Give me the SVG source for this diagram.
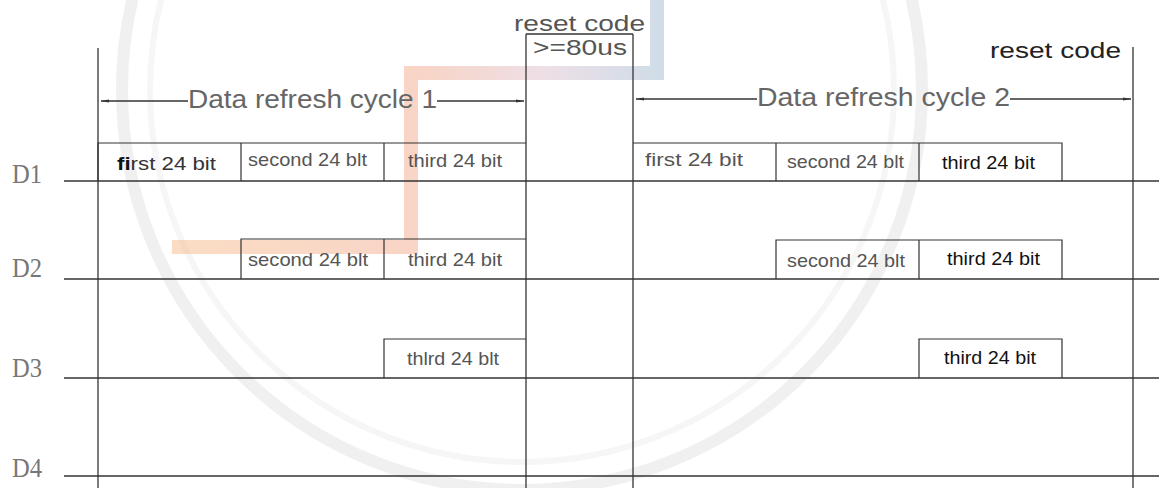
<svg xmlns="http://www.w3.org/2000/svg" width="1159" height="488" viewBox="0 0 1159 488">
<defs>
<style>
.ln{stroke:#333;stroke-width:1.3;fill:none}
.bx{stroke:#333;stroke-width:1.2;fill:none}
.t{font-family:"Liberation Sans",Arial,sans-serif;font-size:19px;fill:#555}
.tk{font-family:"Liberation Sans",Arial,sans-serif;font-size:19px;fill:#111}
.big{font-family:"Liberation Sans",Arial,sans-serif;font-size:25px;fill:#666}
.rc{font-family:"Liberation Sans",Arial,sans-serif;font-size:22px;fill:#555}
.lab{font-family:"Liberation Serif","Times New Roman",serif;font-size:27px;fill:#777}
</style>
<marker id="ah" viewBox="0 0 8 6" refX="8" refY="3" markerWidth="8" markerHeight="6" markerUnits="userSpaceOnUse" orient="auto">
<path d="M0,1.5 L8,3 L0,4.5 z" fill="#333"/>
</marker>
<linearGradient id="wm" x1="170" y1="0" x2="670" y2="0" gradientUnits="userSpaceOnUse">
<stop offset="0" stop-color="#f5b27c"/>
<stop offset="0.5" stop-color="#f0a080"/>
<stop offset="0.75" stop-color="#d8b8c8"/>
<stop offset="1" stop-color="#8fb2cc"/>
</linearGradient>
</defs>

<g id="watermark">
<circle cx="522" cy="90" r="400" fill="none" stroke="#ececec" stroke-width="12" opacity="0.8"/>
<circle cx="522" cy="90" r="372" fill="none" stroke="#f4f4f4" stroke-width="6" opacity="0.8"/>
<path d="M172,247 H411 V73 H657 V0" fill="none" stroke="url(#wm)" stroke-width="14" opacity="0.45"/>
</g>

<g id="connectors">
<line class="ln" x1="98" y1="48" x2="98" y2="488"/>
<line class="ln" x1="526" y1="34" x2="526" y2="488"/>
<line class="ln" x1="633" y1="34" x2="633" y2="488"/>
<line class="ln" x1="1133" y1="47" x2="1133" y2="488"/>
<line class="ln" x1="526" y1="34" x2="633" y2="34" stroke-width="1"/>
<line class="ln" x1="64" y1="181" x2="1159" y2="181"/>
<line class="ln" x1="64" y1="279" x2="1159" y2="279"/>
<line class="ln" x1="64" y1="378" x2="1159" y2="378"/>
<line class="ln" x1="64" y1="476" x2="1159" y2="476"/>
<line class="ln" x1="188" y1="101" x2="101" y2="101" marker-end="url(#ah)" stroke-width="1.1"/>
<line class="ln" x1="437" y1="101" x2="524" y2="101" marker-end="url(#ah)" stroke-width="1.1"/>
<line class="ln" x1="757" y1="99" x2="636" y2="99" marker-end="url(#ah)" stroke-width="1.1"/>
<line class="ln" x1="1010" y1="99" x2="1131" y2="99" marker-end="url(#ah)" stroke-width="1.1"/>
</g>

<g id="labels">
<text class="lab" x="12" y="183" textLength="30" lengthAdjust="spacingAndGlyphs">D1</text>
<text class="lab" x="12" y="277" textLength="30" lengthAdjust="spacingAndGlyphs">D2</text>
<text class="lab" x="12" y="377" textLength="30" lengthAdjust="spacingAndGlyphs">D3</text>
<text class="lab" x="12" y="477" textLength="30" lengthAdjust="spacingAndGlyphs">D4</text>
</g>

<g id="reset-top">
<text class="rc" x="514" y="31" textLength="131" lengthAdjust="spacingAndGlyphs">reset code</text>
<text class="rc" x="533" y="55" textLength="94" lengthAdjust="spacingAndGlyphs">&gt;=80us</text>
</g>
<g id="reset-right">
<text class="rc" x="990" y="58" textLength="131" lengthAdjust="spacingAndGlyphs" style="fill:#222">reset code</text>
</g>

<g id="cycle1-label">
<text class="big" x="188" y="108" textLength="249" lengthAdjust="spacingAndGlyphs">Data refresh cycle 1</text>
</g>
<g id="cycle2-label">
<text class="big" x="757" y="106" textLength="253" lengthAdjust="spacingAndGlyphs">Data refresh cycle 2</text>
</g>

<g id="c1-d1">
<path class="bx" d="M98,181 V143 H526 M241,143 V181 M384,143 V181"/>
<text class="t" x="117" y="170" textLength="99" lengthAdjust="spacingAndGlyphs" style="fill:#333"><tspan font-weight="bold" fill="#111">fi</tspan>rst 24 bit</text>
<text class="t" x="248" y="166" textLength="119" lengthAdjust="spacingAndGlyphs">second 24 blt</text>
<text class="t" x="408" y="167" textLength="94" lengthAdjust="spacingAndGlyphs">third 24 bit</text>
</g>
<g id="c1-d2">
<path class="bx" d="M241,279 V239 H526 M384,239 V279"/>
<text class="t" x="248" y="266" textLength="120" lengthAdjust="spacingAndGlyphs">second 24 blt</text>
<text class="t" x="408" y="266" textLength="94" lengthAdjust="spacingAndGlyphs">third 24 bit</text>
</g>
<g id="c1-d3">
<path class="bx" d="M384,378 V339 H526"/>
<text class="t" x="407" y="365" textLength="92" lengthAdjust="spacingAndGlyphs">thlrd 24 blt</text>
</g>

<g id="c2-d1">
<path class="bx" d="M633,143 H1062 V181 M776,143 V181 M919,143 V181"/>
<text class="t" x="645" y="166" textLength="98" lengthAdjust="spacingAndGlyphs">first 24 bit</text>
<text class="t" x="787" y="168" textLength="117" lengthAdjust="spacingAndGlyphs">second 24 blt</text>
<text class="tk" x="942" y="169" textLength="93" lengthAdjust="spacingAndGlyphs">third 24 bit</text>
</g>
<g id="c2-d2">
<path class="bx" d="M776,279 V240 H1062 V279 M919,240 V279"/>
<text class="t" x="787" y="267" textLength="118" lengthAdjust="spacingAndGlyphs">second 24 blt</text>
<text class="tk" x="947" y="265" textLength="93" lengthAdjust="spacingAndGlyphs">third 24 bit</text>
</g>
<g id="c2-d3">
<path class="bx" d="M919,378 V339 H1062 V378"/>
<text class="tk" x="944" y="364" textLength="92" lengthAdjust="spacingAndGlyphs">third 24 bit</text>
</g>
</svg>
